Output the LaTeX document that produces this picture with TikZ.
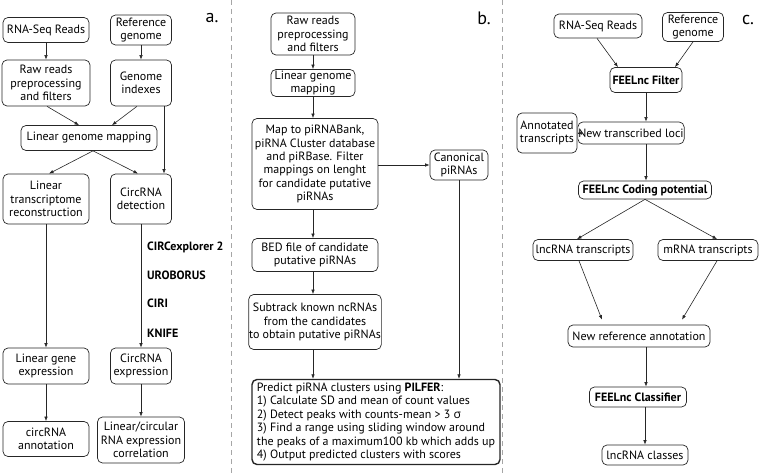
\documentclass[tikz,border=0pt]{standalone}
\usepackage{fontspec}
\setmainfont{PT Sans}
\newfontfamily\sigfont{Open Sans}
\usetikzlibrary{arrows.meta}
\begin{document}
\begin{tikzpicture}[x=1pt,y=-1pt,
  box/.style={draw=black!85, rounded corners=5pt, align=center, inner xsep=0.5pt, inner ysep=1pt,
    font=\fontsize{12}{13.3}\selectfont, line width=0.7pt},
  boldbox/.style={box, font=\bfseries\fontsize{12}{13.3}\selectfont},
  arr/.style={-{Latex[length=4.5pt,width=3.5pt]}, line width=0.6pt, draw=black!85},
  sep/.style={draw=gray!70, line width=1pt, dash pattern=on 5pt off 4pt},
  lbl/.style={font=\fontsize{18}{18}\selectfont, inner sep=0pt},
  tool/.style={font=\bfseries\fontsize{12}{13}\selectfont, anchor=west, inner sep=0pt}]
\useasboundingbox (0,0) rectangle (760,476);

% separators
\coordinate (s1t) at (231,0); \coordinate (s1b) at (231,476);
\coordinate (s2t) at (502,0); \coordinate (s2b) at (502,476);
\draw[sep] (s1t) -- (s1b);
\draw[sep] (s2t) -- (s2b);

% panel labels
\node[lbl] (la) at (212,18) {a.};
\node[lbl] (lb) at (484,18) {b.};
\node[lbl] (lc) at (748,20) {c.};

% ---------- panel a ----------
\node[box, minimum width=86, minimum height=25] (a1) at (46,30) {RNA-Seq Reads};
\node[box, minimum width=61, minimum height=30] (a2) at (141,30) {Reference\\genome};
\node[box, minimum width=88, minimum height=46] (a3) at (46,83) {Raw reads\\preprocessing\\and filters};
\node[box, minimum width=61, minimum height=46] (a4) at (141,83) {Genome\\indexes};
\node[box, minimum width=136, minimum height=25] (a5) at (89,138) {Linear genome mapping};
\node[box, minimum width=86, minimum height=50] (a6) at (46,199) {Linear\\transcriptome\\reconstruction};
\node[box, minimum width=61, minimum height=50] (a7) at (141,199) {CircRNA\\detection};
\node[box, minimum width=86, minimum height=36] (a8) at (46,366) {Linear gene\\expression};
\node[box, minimum width=61, minimum height=36] (a9) at (141,366) {CircRNA\\expression};
\node[box, minimum width=86, minimum height=35] (a10) at (46,439) {circRNA\\annotation};
\node[box, minimum width=87, minimum height=46] (a11) at (141,440) {Linear/circular\\RNA expression\\correlation};

\node[tool] (t1) at (147,247) {CIRCexplorer 2};
\node[tool] (t2) at (147,275) {UROBORUS};
\node[tool] (t3) at (147,303) {CIRI};
\node[tool] (t4) at (147,333) {KNIFE};

\draw[arr] (a1) -- (a3);
\draw[arr] (a2) -- (a4);
\draw[arr] ([xshift=1]a3.south) -- ([xshift=-10]a5.north);
\draw[arr] ([xshift=-4]a4.south) -- ([xshift=23]a5.north);
\draw[arr] ([xshift=4]a5.south) -- ([xshift=3]a6.north);
\draw[arr] ([xshift=4]a5.south) -- ([xshift=-3]a7.north);
\draw[arr] ([xshift=23]a4.south) -- ([xshift=23]a7.north);
\draw[arr] (a6) -- (a8);
\draw[arr] (a7) -- (a9);
\draw[arr] (a8) -- (a10);
\draw[arr] (a9) -- (a11);

% ---------- panel b ----------
\node[box, minimum width=84, minimum height=42] (b1) at (313,34) {Raw reads\\preprocessing\\and filters};
\node[box, minimum width=84, minimum height=27] (b2) at (313,83) {Linear genome\\mapping};
\node[box, minimum width=126, minimum height=91] (b3) at (315,164) {Map to piRNABank,\\piRNA Cluster database\\and piRBase. Filter\\mappings on lenght\\for candidate putative\\piRNAs};
\node[box, minimum width=58, minimum height=30] (b4) at (459,165) {Canonical\\piRNAs};
\node[box, minimum width=126, minimum height=33] (b5) at (315,255) {BED file of candidate\\putative piRNAs};
\node[box, minimum width=126, minimum height=55] (b6) at (315,322) {Subtrack known ncRNAs\\from the candidates\\to obtain putative piRNAs};
\node[box, align=left, line width=1.4pt, minimum width=248, minimum height=85, inner xsep=2.5pt,
  font=\fontsize{12}{13.5}\selectfont] (b7) at (376,422)
  {Predict piRNA clusters using \textbf{PILFER}:\\
   1) Calculate SD and mean of count values\\
   2) Detect peaks with counts-mean > 3 {\sigfont σ}\\
   3) Find a range using sliding window around\\
   the peaks of a maximum100 kb which adds up\\
   4) Output predicted clusters with scores};

\draw[arr] (b1) -- (b1 |- b2.north);
\draw[arr] (b2) -- (b2 |- b3.north);
\draw[arr] (b2 |- b3.south) -- (b2 |- b5.north);
\draw[arr] (b2 |- b5.south) -- (b2 |- b6.north);
\draw[arr] (b2 |- b6.south) -- (b2 |- b7.north);
\draw[arr] (b3.east |- b4.west) -- (b4.west);
\draw[arr] (b4.south) -- (b4.south |- b7.north);

% ---------- panel c ----------
\node[box, minimum width=88, minimum height=24] (c1) at (598,26) {RNA-Seq Reads};
\node[box, minimum width=61, minimum height=29] (c2) at (693,27) {Reference\\genome};
\node[boldbox, minimum width=72, minimum height=25] (c3) at (646,80) {FEELnc Filter};
\node[box, minimum width=84, minimum height=22] (c4) at (631,133) {New transcribed loci};
\node[box, minimum width=60, minimum height=40] (c5) at (547,133) {Annotated\\transcripts};
\node[boldbox, minimum width=133, minimum height=18] (c6) at (645,190) {FEELnc Coding potential};
\node[box, minimum width=100, minimum height=21] (c7) at (583,250) {lncRNA transcripts};
\node[box, minimum width=100, minimum height=21] (c8) at (708,250) {mRNA transcripts};
\node[box, minimum width=142, minimum height=22] (c9) at (639,336) {New reference annotation};
\node[boldbox, minimum width=97, minimum height=20] (c10) at (638,397) {FEELnc Classifier};
\node[box, minimum width=86, minimum height=20] (c11) at (645,455) {lncRNA classes};

\draw[arr] ([xshift=-1]c1.south) -- ([xshift=-28]c3.north);
\draw[arr] (c2.south) -- ([xshift=29]c3.north);
\draw[arr] (c3.south) -- (c3.south |- c4.north);
\draw[arr] (c4.west) -- (c4.west -| c5.east);
\draw[arr] (c3.south |- c4.south) -- (c3.south |- c6.north);
\draw[arr] (c6.south) -- ([xshift=-6]c7.north);
\draw[arr] (c6.south) -- ([xshift=9]c8.north);
\draw[arr] ([xshift=-4]c7.south) -- ([xshift=-37,yshift=5]c9.north);
\draw[arr] ([xshift=9]c8.south) -- ([xshift=43,yshift=5]c9.north);
\draw[arr] ([xshift=7]c9.south) -- ([xshift=7]c9.south |- c10.north);
\draw[arr] ([xshift=7]c10.south) -- ([xshift=7]c10.south |- c11.north);
\end{tikzpicture}
\end{document}
